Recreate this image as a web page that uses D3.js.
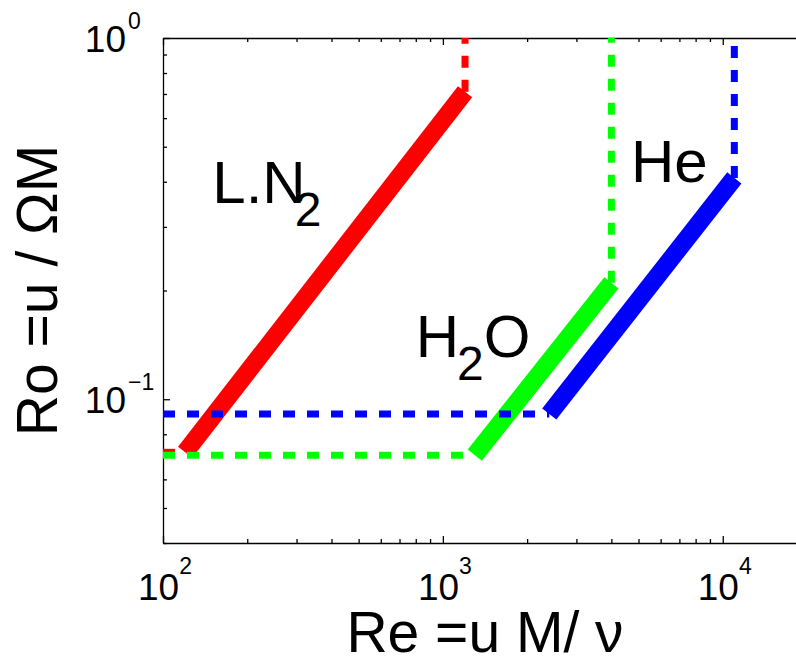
<!DOCTYPE html>
<html>
<head>
<meta charset="utf-8">
<script src="https://cdn.jsdelivr.net/npm/d3@7"></script>
<style>
  body { margin: 0; background: #fff; overflow: hidden; }
  text { font-family: "Liberation Sans", Arial, sans-serif; fill: #000; }
</style>
</head>
<body>
<div id="chart"></div>
<script>
// fluid regimes (Re, Ro)
var fluids = ["L.N", "H", "He"];
var fluidSubs = ["2", "2", ""];
var reMin = [120, 1300, 2400];
var reMax = [1200, 4000, 11000];
var roMin = [0.0713, 0.07, 0.091];
var roMax = [0.71, 0.21, 0.41];
var colors = ["#ff0000", "#00ff00", "#0000ff"];

var xMajor = [100, 1000, 10000];
var xExp = ["2", "3", "4"];
var yMajor = [0.1, 1];
var yExp = ["\u22121", "0"];

var W = 796, H = 658;
var margin = {top: 38, left: 163, bottom: 115, right: -11};

var svg = d3.select("#chart").append("svg")
  .attr("width", W)
  .attr("height", H);

var x = d3.scaleLog().domain([100, 20000]).range([margin.left, W - margin.right]);
var y = d3.scaleLog().domain([0.04, 1]).range([H - margin.bottom, margin.top]);

// minor + major tick values
var xTicks = [];
[100, 1000, 10000].forEach(function(d) {
  for (var i = 1; i <= 9; i++) if (d * i <= 20000) xTicks.push(d * i);
});
xTicks.push(20000);
var yTicks = [0.04, 0.05, 0.06, 0.07, 0.08, 0.09, 0.1, 0.2, 0.3, 0.4, 0.5, 0.6, 0.7, 0.8, 0.9, 1];

function isMajor(v) {
  var l = Math.log10(v);
  return Math.abs(l - Math.round(l)) < 1e-9;
}

function styleAxis(g, sign, attr) {
  g.select(".domain").attr("stroke", "#000").attr("stroke-width", 1.3);
  g.selectAll(".tick line").attr("stroke", "#000").attr("stroke-width", 1.3)
    .attr(attr, function(d) { return sign * (isMajor(d) ? 7 : 4); });
  g.selectAll(".tick text").remove();
}

var yBottom = H - margin.bottom;
svg.append("g").attr("transform", "translate(0," + yBottom + ")")
  .call(d3.axisBottom(x).tickValues(xTicks).tickSizeOuter(0).tickSizeInner(-4))
  .call(styleAxis, -1, "y2");
svg.append("g").attr("transform", "translate(0," + margin.top + ")")
  .call(d3.axisTop(x).tickValues(xTicks).tickSizeOuter(0).tickSizeInner(-4))
  .call(styleAxis, 1, "y2");
svg.append("g").attr("transform", "translate(" + margin.left + ",0)")
  .call(d3.axisLeft(y).tickValues(yTicks).tickSizeOuter(0).tickSizeInner(-4))
  .call(styleAxis, 1, "x2");
svg.append("g").attr("transform", "translate(" + (W - margin.right) + ",0)")
  .call(d3.axisRight(y).tickValues(yTicks).tickSizeOuter(0).tickSizeInner(-4))
  .call(styleAxis, -1, "x2");

// x tick labels 10^n
xMajor.forEach(function(v, i) {
  var t = svg.append("text")
    .attr("x", x(v) + 2)
    .attr("y", yBottom + 57)
    .attr("text-anchor", "middle")
    .style("font-size", "37px");
  t.append("tspan").text("10");
  t.append("tspan").attr("dy", -26).style("font-size", "23px").text(xExp[i]);
});

// y tick labels 10^n
yMajor.forEach(function(v, i) {
  svg.append("text")
    .attr("x", margin.left - 37)
    .attr("y", y(v) + 14)
    .attr("text-anchor", "end")
    .style("font-size", "37px")
    .text("10");
  svg.append("text")
    .attr("x", margin.left - 35)
    .attr("y", y(v) - 9)
    .style("font-size", "23px")
    .text(yExp[i]);
});

var line = d3.line().x(function(d) { return x(d[0]); }).y(function(d) { return y(d[1]); });

fluids.forEach(function(f, i) {
  // dashed bounds
  svg.append("path")
    .attr("d", line([[100, roMin[i]], [reMin[i], roMin[i]]]))
    .attr("fill", "none").attr("stroke", colors[i])
    .attr("stroke-width", 7).attr("stroke-dasharray", "12,12");
  svg.append("path")
    .attr("d", line([[reMax[i], roMax[i]], [reMax[i], 1]]))
    .attr("fill", "none").attr("stroke", colors[i])
    .attr("stroke-width", 7).attr("stroke-dasharray", "12,12");
  // thick regime line
  svg.append("path")
    .attr("d", line([[reMin[i], roMin[i]], [reMax[i], roMax[i]]]))
    .attr("fill", "none").attr("stroke", colors[i])
    .attr("stroke-width", 18).attr("stroke-linecap", "butt");
});

// fluid labels
var labelPos = [[150, 0.349], [800, 0.1307], [4700, 0.399]];
var subShift = [-11, -2, 0];
fluids.forEach(function(f, i) {
  var t = svg.append("text")
    .attr("x", x(labelPos[i][0]))
    .attr("y", y(labelPos[i][1]))
    .style("font-size", "60px");
  t.append("tspan").text(f);
  if (fluidSubs[i]) {
    t.append("tspan").attr("dy", 23).attr("dx", subShift[i]).style("font-size", "48px").text(fluidSubs[i]);
    if (f === "H") t.append("tspan").attr("dy", -23).text("O");
  }
});

// axis titles
svg.append("text")
  .attr("x", (x.range()[0] + x.range()[1]) / 2)
  .attr("y", 652)
  .attr("text-anchor", "middle")
  .style("font-size", "57px")
  .attr("xml:space", "preserve")
  .text("Re =u M/ \u03bd");

svg.append("text")
  .attr("transform", "translate(57," + ((y.range()[0] + y.range()[1]) / 2) + ") rotate(-90)")
  .attr("text-anchor", "middle")
  .style("font-size", "57px")
  .attr("xml:space", "preserve")
  .text("Ro =u / \u03a9M");
</script>
</body>
</html>
